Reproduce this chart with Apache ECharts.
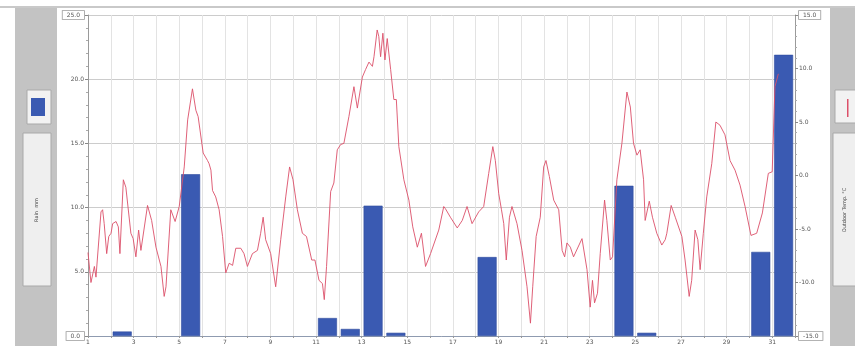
<!DOCTYPE html>
<html>
<head>
<meta charset="utf-8">
<script src="https://cdn.jsdelivr.net/npm/echarts@6/dist/echarts.min.js"></script>
<style>
  html, body { margin: 0; padding: 0; background: #ffffff; }
  #chart { width: 855px; height: 346px; }
</style>
</head>
<body>
<div id="chart"></div>
<script>
// Daily rainfall totals (mm), drawn as a bar in the middle of each day
const rainDays = [2, 5, 11, 12, 13, 14, 18, 24, 25, 30, 31];
const rainMm = [0.35, 12.6, 1.4, 0.55, 10.15, 0.25, 6.15, 11.7, 0.25, 6.55, 21.9];

// Outdoor temperature readings: time in days of the month, value in °C
const tempTime = [
  1.00, 1.13, 1.28, 1.35, 1.57, 1.64, 1.71, 1.82, 1.91, 2.01,
  2.08, 2.23, 2.33, 2.40, 2.55, 2.66, 2.88, 2.98, 3.10, 3.22,
  3.32, 3.61, 3.79, 3.98, 4.20, 4.34, 4.42, 4.63, 4.82, 5.00,
  5.22, 5.37, 5.58, 5.73, 5.83, 6.05, 6.24, 6.31, 6.39, 6.46,
  6.60, 6.75, 6.90, 7.04, 7.19, 7.34, 7.48, 7.70, 7.84, 7.99,
  8.21, 8.43, 8.57, 8.68, 8.79, 9.01, 9.23, 9.45, 9.67, 9.84,
  9.99, 10.18, 10.40, 10.58, 10.81, 10.95, 11.13, 11.28, 11.36, 11.46,
  11.64, 11.78, 11.93, 12.08, 12.22, 12.44, 12.66, 12.81, 13.03, 13.17,
  13.32, 13.47, 13.54, 13.68, 13.75, 13.83, 13.93, 14.02, 14.12, 14.27,
  14.41, 14.52, 14.63, 14.85, 15.07, 15.24, 15.44, 15.62, 15.80, 16.02,
  16.38, 16.60, 16.67, 16.89, 17.19, 17.41, 17.62, 17.84, 18.13, 18.35,
  18.57, 18.75, 18.86, 19.01, 19.13, 19.23, 19.34, 19.48, 19.59, 19.81,
  20.03, 20.25, 20.40, 20.50, 20.65, 20.83, 20.98, 21.08, 21.23, 21.42,
  21.64, 21.79, 21.90, 22.00, 22.15, 22.29, 22.66, 22.88, 23.02, 23.12,
  23.21, 23.34, 23.46, 23.65, 23.75, 23.90, 24.00, 24.19, 24.41, 24.63,
  24.78, 24.92, 25.07, 25.21, 25.36, 25.43, 25.61, 25.75, 25.94, 26.16,
  26.31, 26.38, 26.57, 26.75, 27.04, 27.18, 27.36, 27.47, 27.62, 27.74,
  27.84, 27.98, 28.13, 28.35, 28.53, 28.71, 28.93, 29.15, 29.37, 29.59,
  29.81, 30.07, 30.32, 30.57, 30.83, 31.00, 31.12, 31.27
];
const tempC = [
  -7.2, -10.0, -8.5, -9.5, -3.4, -3.2, -4.5, -7.3, -5.7, -5.4,
  -4.5, -4.3, -4.8, -7.3, -0.4, -1.1, -5.4, -5.9, -7.6, -5.1,
  -7.0, -2.8, -4.2, -6.7, -8.5, -11.3, -10.4, -3.2, -4.3, -2.9,
  0.8, 5.2, 8.1, 6.1, 5.5, 2.1, 1.4, 1.1, 0.5, -1.4,
  -2.0, -3.2, -5.7, -9.1, -8.2, -8.4, -6.8, -6.8, -7.3, -8.5,
  -7.3, -7.0, -5.4, -3.9, -6.0, -7.3, -10.4, -6.0, -2.0, 0.8,
  -0.4, -3.2, -5.4, -5.7, -7.9, -7.9, -9.8, -10.1, -11.6, -8.5,
  -1.5, -0.7, 2.4, 2.9, 3.0, 5.5, 8.3, 6.3, 9.2, 9.9,
  10.6, 10.2, 11.1, 13.6, 13.0, 11.1, 13.3, 10.8, 12.8, 9.9,
  7.1, 7.1, 2.7, -0.4, -2.3, -4.8, -6.7, -5.4, -8.5, -7.3,
  -5.1, -2.9, -3.1, -3.9, -4.9, -4.2, -2.9, -4.5, -3.4, -2.9,
  0.2, 2.7, 1.4, -1.7, -3.2, -4.5, -7.9, -3.9, -2.9, -4.5,
  -7.0, -10.4, -13.8, -10.4, -5.7, -3.9, 0.8, 1.4, -0.1, -2.3,
  -3.2, -7.0, -7.6, -6.3, -6.7, -7.6, -5.9, -8.8, -12.3, -9.8,
  -11.9, -11.0, -7.3, -2.3, -4.2, -7.9, -7.6, -0.4, 3.0, 7.8,
  6.4, 3.0, 1.9, 2.4, -0.4, -4.2, -2.4, -3.9, -5.4, -6.5,
  -6.0, -5.4, -2.8, -3.9, -5.7, -7.9, -11.3, -9.8, -5.1, -6.0,
  -8.8, -5.4, -2.0, 1.1, 5.0, 4.7, 3.8, 1.4, 0.5, -0.9,
  -2.9, -5.6, -5.4, -3.5, 0.2, 0.35, 8.3, 9.5
];

// Axis ranges
const dayMin = 1, dayMax = 32;
const rainMin = 0, rainMax = 25, rainStep = 5;
const tempMin = -15, tempMax = 15, tempStep = 5;

const rainTitle = 'Rain  mm';
const tempTitle = 'Outdoor Temp. °C';

const rainData = rainDays.map((d, i) => [d + 0.5, rainMm[i]]);
const tempData = tempTime.map((t, i) => [t, tempC[i]]);

const labelColor = '#555';
const lineColor = '#dc5069';
const barColor = '#3a5ab2';
const boxed = {
  box: {
    fontSize: 6, color: labelColor, fontFamily: 'DejaVu Sans',
    borderColor: '#9a9a9a', borderWidth: 0.8, backgroundColor: '#fff',
    padding: [1, 4, 1, 4]
  }
};

function edgeLabel(min, max) {
  return function (v) {
    const s = v.toFixed(1);
    return (v === min || v === max) ? '{box|' + s + '}' : s;
  };
}

const chart = echarts.init(document.getElementById('chart'), null, { renderer: 'canvas' });

chart.setOption({
  animation: false,
  backgroundColor: '#ffffff',
  grid: { left: 88, right: 60, top: 15, bottom: 10, containLabel: false },
  xAxis: {
    type: 'value', min: dayMin, max: dayMax, interval: 1,
    axisLine: { show: true, lineStyle: { color: '#8f9bb0', width: 1 } },
    axisTick: { show: true, length: 2, lineStyle: { color: '#999' } },
    axisLabel: {
      fontSize: 6, color: labelColor, margin: 3, fontFamily: 'DejaVu Sans',
      formatter: v => (v % 2 === 1 && v <= 31) ? String(v) : ''
    },
    splitLine: { show: true, lineStyle: { color: '#e3e3e3', width: 1 } }
  },
  yAxis: [
    {
      type: 'value', position: 'left', min: rainMin, max: rainMax, interval: rainStep,
      axisLine: { show: true, lineStyle: { color: '#9a9a9a', width: 1 } },
      axisTick: { show: true, length: 3, lineStyle: { color: '#888' } },
      minorTick: { show: true, splitNumber: 5, length: 2, lineStyle: { color: '#aaa' } },
      axisLabel: {
        fontSize: 6, color: labelColor, margin: 4, fontFamily: 'DejaVu Sans',
        formatter: edgeLabel(rainMin, rainMax), rich: boxed
      },
      splitLine: { show: true, lineStyle: { color: '#cccccc', width: 1 } }
    },
    {
      type: 'value', position: 'right', min: tempMin, max: tempMax, interval: tempStep,
      axisLine: { show: true, lineStyle: { color: '#9a9a9a', width: 1 } },
      axisTick: { show: true, length: 3, lineStyle: { color: '#888' } },
      minorTick: { show: true, splitNumber: 5, length: 2, lineStyle: { color: '#aaa' } },
      axisLabel: {
        fontSize: 6, color: labelColor, margin: 4, fontFamily: 'DejaVu Sans',
        formatter: edgeLabel(tempMin, tempMax), rich: boxed
      },
      splitLine: { show: false }
    }
  ],
  series: [
    {
      name: 'Rain', type: 'bar', yAxisIndex: 0, data: rainData, barWidth: 19,
      itemStyle: { color: barColor, borderColor: '#2f4c9e', borderWidth: 0.6 },
      z: 2
    },
    {
      name: 'Temperature', type: 'line', yAxisIndex: 1, data: tempData,
      showSymbol: false, smooth: false,
      lineStyle: { color: lineColor, width: 1, opacity: 0.9 },
      z: 3
    }
  ],
  graphic: [
    // top rule
    { type: 'rect', shape: { x: 0, y: 6, width: 855, height: 2 }, style: { fill: '#c9c9c9' }, silent: true },
    // left panel
    { type: 'rect', shape: { x: 15, y: 8, width: 42, height: 338 }, style: { fill: '#c3c3c3' }, silent: true },
    { type: 'rect', shape: { x: 27, y: 90, width: 24, height: 34 }, style: { fill: '#f2f2f2', stroke: '#a9a9a9', lineWidth: 1 }, silent: true },
    { type: 'rect', shape: { x: 31, y: 98, width: 14, height: 18 }, style: { fill: barColor }, silent: true },
    { type: 'rect', shape: { x: 23, y: 133, width: 28, height: 153 }, style: { fill: '#efefef', stroke: '#a9a9a9', lineWidth: 1 }, silent: true },
    {
      type: 'text', x: 37, y: 210, rotation: Math.PI / 2,
      style: { text: rainTitle, fontSize: 5, fill: '#444', align: 'center', verticalAlign: 'middle', fontFamily: 'DejaVu Sans' },
      silent: true
    },
    // right panel
    { type: 'rect', shape: { x: 830, y: 8, width: 25, height: 338 }, style: { fill: '#c3c3c3' }, silent: true },
    { type: 'rect', shape: { x: 835, y: 90, width: 22, height: 33 }, style: { fill: '#f2f2f2', stroke: '#a9a9a9', lineWidth: 1 }, silent: true },
    { type: 'rect', shape: { x: 847, y: 99, width: 1.5, height: 18 }, style: { fill: lineColor }, silent: true },
    { type: 'rect', shape: { x: 833, y: 133, width: 24, height: 153 }, style: { fill: '#efefef', stroke: '#a9a9a9', lineWidth: 1 }, silent: true },
    {
      type: 'text', x: 845, y: 210, rotation: Math.PI / 2,
      style: { text: tempTitle, fontSize: 5, fill: '#444', align: 'center', verticalAlign: 'middle', fontFamily: 'DejaVu Sans' },
      silent: true
    }
  ]
});
</script>
</body>
</html>
